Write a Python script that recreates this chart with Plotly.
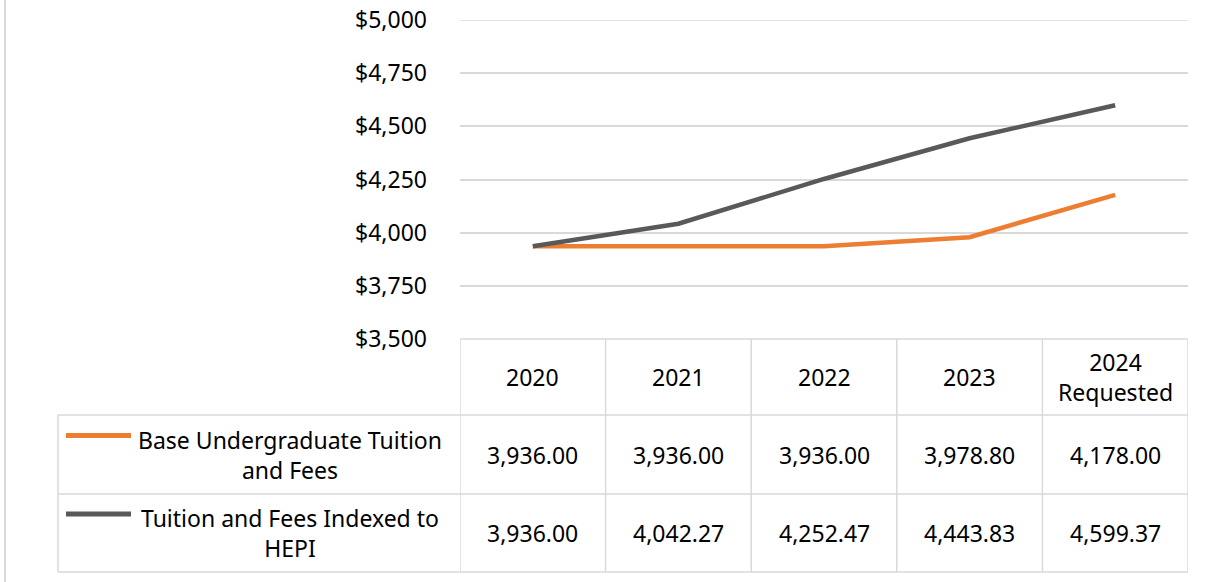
import plotly.graph_objects as go

# ---- data ----
categories = ["2020", "2021", "2022", "2023", "2024<br>Requested"]
series_names = ["Base Undergraduate Tuition<br>and Fees", "Tuition and Fees Indexed to<br>HEPI"]
base_tuition = [3936.00, 3936.00, 3936.00, 3978.80, 4178.00]
hepi_tuition = [3936.00, 4042.27, 4252.47, 4443.83, 4599.37]
series_colors = ["#ED7D31", "#595959"]
y_ticks = [3500, 3750, 4000, 4250, 4500, 4750, 5000]

W, H = 1213, 582
FONT = "Noto Sans"
FS = 23
GRID = "#D9D9D9"

def py(p):  # pixel y -> paper y
    return 1 - p / H

def px(p):  # pixel x -> paper x
    return p / W

x_idx = list(range(len(categories)))

fig = go.Figure()
for vals, name, col in zip([base_tuition, hepi_tuition], series_names, series_colors):
    fig.add_trace(go.Scatter(x=x_idx, y=vals, mode="lines", name=name,
                             line=dict(color=col, width=4.5, shape="linear"),
                             showlegend=False, hoverinfo="x+y"))

plot_left, plot_right = 460, 1188
plot_top, plot_bottom = 20, 339
row_lines = [339, 415, 494, 572]
label_left = 58

fig.update_layout(
    width=W, height=H,
    margin=dict(l=0, r=0, t=0, b=0, pad=0),
    paper_bgcolor="white", plot_bgcolor="white",
    font=dict(family=FONT, size=FS, color="#000000"),
    xaxis=dict(domain=[px(plot_left), px(plot_right)], range=[-0.5, len(categories) - 0.5],
               showticklabels=False, showgrid=False, zeroline=False, fixedrange=True,
               automargin=False),
    yaxis=dict(domain=[py(plot_bottom), py(plot_top)], range=[y_ticks[0], y_ticks[-1]],
               tickvals=y_ticks, ticktext=[f"${v:,}" for v in y_ticks],
               showgrid=True, gridcolor=GRID, gridwidth=1.5, zeroline=False,
               ticks="", ticklabelstandoff=32, tickfont=dict(family=FONT, size=FS),
               fixedrange=True, automargin=False),
)

shapes = []
lc = dict(color=GRID, width=1.5)
# top gridline (at range edge)
shapes.append(dict(type="line", xref="x", yref="y", x0=-0.5, x1=len(categories) - 0.5,
                   y0=y_ticks[-1], y1=y_ticks[-1], line=lc, layer="below"))
# chart frame line on left
shapes.append(dict(type="line", xref="paper", yref="paper", x0=px(5), x1=px(5), y0=0, y1=1, line=dict(color=GRID, width=2)))
# table top border (columns area)
shapes.append(dict(type="line", xref="x", yref="paper", x0=-0.5, x1=len(categories) - 0.5,
                   y0=py(row_lines[0]), y1=py(row_lines[0]), line=lc))
# horizontal lines spanning label column + data
for r in row_lines[1:]:
    shapes.append(dict(type="line", xref="paper", yref="paper", x0=px(label_left), x1=px(plot_right),
                       y0=py(r), y1=py(r), line=lc))
# vertical lines for data columns
for i in range(len(categories) + 1):
    shapes.append(dict(type="line", xref="x", yref="paper", x0=i - 0.5, x1=i - 0.5,
                       y0=py(row_lines[0]), y1=py(row_lines[-1]), line=lc))
# label column left border
shapes.append(dict(type="line", xref="paper", yref="paper", x0=px(label_left), x1=px(label_left),
                   y0=py(row_lines[1]), y1=py(row_lines[-1]), line=lc))

annotations = []
# header
for i, c in enumerate(categories):
    annotations.append(dict(x=i, y=py((row_lines[0] + row_lines[1]) / 2), xref="x", yref="paper",
                            text=c, showarrow=False, font=dict(family=FONT, size=FS),
                            xanchor="center", yanchor="middle"))
# rows
for r, (vals, name, col) in enumerate(zip([base_tuition, hepi_tuition], series_names, series_colors)):
    ymid = (row_lines[r + 1] + row_lines[r + 2]) / 2
    for i, v in enumerate(vals):
        annotations.append(dict(x=i, y=py(ymid), xref="x", yref="paper", text=f"{v:,.2f}",
                                showarrow=False, font=dict(family=FONT, size=FS),
                                xanchor="center", yanchor="middle"))
    # legend key
    key_y = ymid - 19
    shapes.append(dict(type="line", xref="paper", yref="paper", x0=px(66), x1=px(131),
                       y0=py(key_y), y1=py(key_y), line=dict(color=col, width=5)))
    annotations.append(dict(x=px(290), y=py(ymid), xref="paper", yref="paper", text=name,
                            showarrow=False, font=dict(family=FONT, size=FS), align="center",
                            xanchor="center", yanchor="middle"))

fig.update_layout(shapes=shapes, annotations=annotations)
fig.write_html("out.html", config={"displayModeBar": False},
               post_script="document.body.style.margin='0px';")
